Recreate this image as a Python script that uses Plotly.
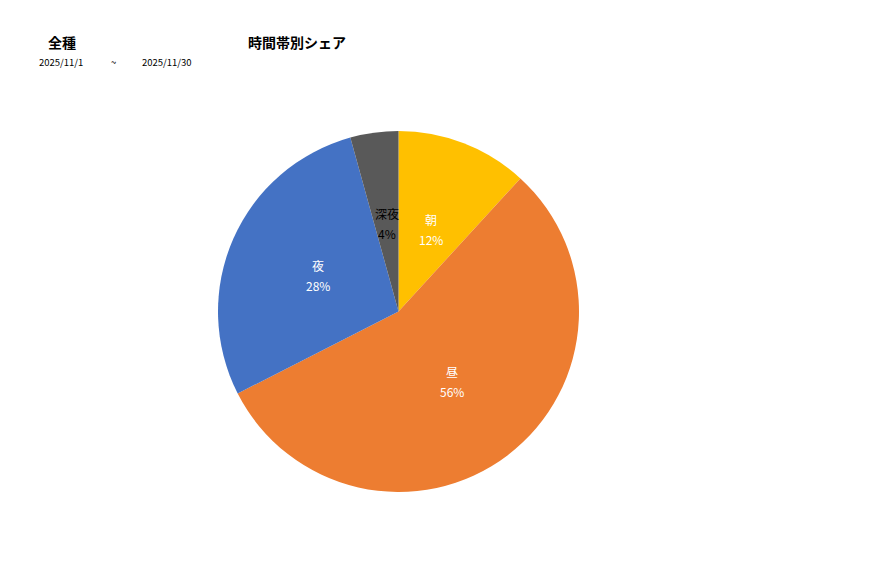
import math
import plotly.graph_objects as go

labels = ["朝", "昼", "夜", "深夜"]
shares = [11.8, 55.7, 28.2, 4.3]
colours = ["#FFC000", "#ED7D31", "#4472C4", "#595959"]
label_colours = ["#FFFFFF", "#FFFFFF", "#FFFFFF", "#000000"]

FONT = "Noto Sans CJK JP, Noto Sans, sans-serif"

# the page body has an 8px margin, so draw in a slightly smaller box
OFF = 8
W, H = 877 - 2 * OFF, 578 - 2 * OFF
cx, cy, r = 398.5 - OFF, 311.5 - OFF, 180.5


def px(x, y):
    return x / W, 1 - y / H


fig = go.Figure(go.Pie(
    labels=labels,
    values=shares,
    marker=dict(colors=colours, line=dict(width=0)),
    sort=False,
    direction="clockwise",
    rotation=0,
    textinfo="none",
    hoverinfo="label+percent",
    showlegend=False,
    domain=dict(
        x=[(cx - r) / W, (cx + r) / W],
        y=[(H - cy - r) / H, (H - cy + r) / H],
    ),
))

# data labels at half radius along each slice's bisector (Excel style)
total = sum(shares)
start = 0.0
for lab, v, col in zip(labels, shares, label_colours):
    mid = (start + v / 2) / total * 2 * math.pi
    start += v
    lx = cx + 0.49 * r * math.sin(mid)
    ly = cy - 0.49 * r * math.cos(mid)
    for text, dy in [(lab, -10), (f"{round(v / total * 100)}%", 10)]:
        x, y = px(lx, ly + dy)
        fig.add_annotation(x=x, y=y, xref="paper", yref="paper",
                           xanchor="center", yanchor="middle",
                           text=text, showarrow=False,
                           font=dict(family=FONT, size=12, color=col))

for text, x, y, size, bold in [
    ("全種", 62, 42, 14, True),
    ("時間帯別シェア", 297, 42, 14, True),
    ("2025/11/1", 61, 62, 9.5, False),
    ("~", 113, 62, 9.5, False),
    ("2025/11/30", 167, 62, 9.5, False),
]:
    ax, ay = px(x - OFF, y - OFF)
    fig.add_annotation(x=ax, y=ay, xref="paper", yref="paper",
                       xanchor="center", yanchor="middle",
                       text=f"<b>{text}</b>" if bold else text, showarrow=False,
                       font=dict(family=FONT, size=size, color="#000000"))

fig.update_layout(
    width=W, height=H,
    margin=dict(l=0, r=0, t=0, b=0),
    paper_bgcolor="#FFFFFF",
    plot_bgcolor="#FFFFFF",
    font=dict(family=FONT),
)

fig.write_html("out.html", config={"displayModeBar": False})
